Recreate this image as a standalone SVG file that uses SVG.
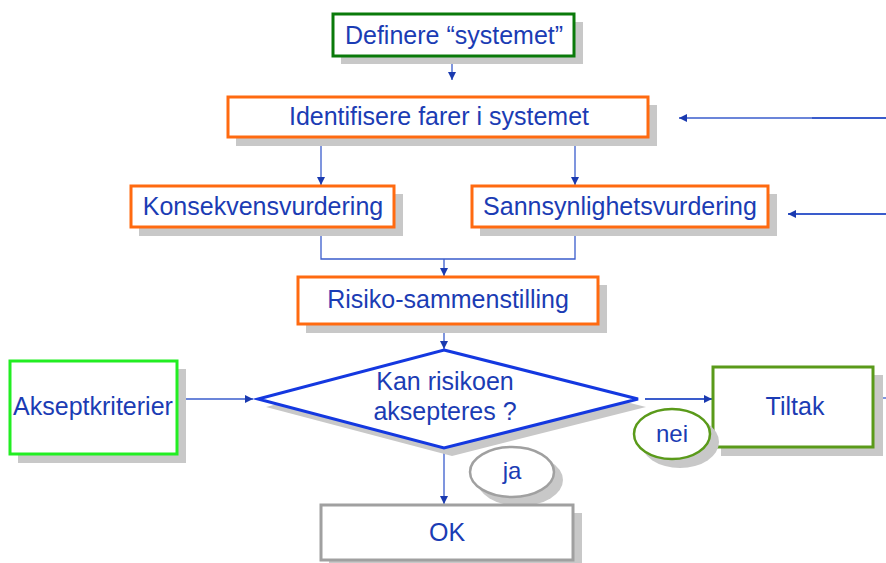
<svg xmlns="http://www.w3.org/2000/svg" width="886" height="563" viewBox="0 0 886 563">
<defs>
<style>
text{font-family:"Liberation Sans",Arial,sans-serif;font-size:25px;fill:#1b3cb4;text-anchor:middle}
.sh{fill:#c8c8c8}
.box{fill:#fff;stroke-width:3}
.or{stroke:#ff6a10}
.con{stroke:#3a5ccc;stroke-width:1.3;fill:none}
</style>
<marker id="ah" viewBox="0 0 10 10" refX="10" refY="5" markerWidth="8" markerHeight="8" markerUnits="userSpaceOnUse" orient="auto">
<path d="M0,0 L10,5 L0,10 z" fill="#1a3ab0"/>
</marker>
</defs>
<rect width="886" height="563" fill="#fff"/>

<g id="connectors">
<line class="con" x1="452" y1="57" x2="452" y2="80" marker-end="url(#ah)"/>
<line class="con" x1="321" y1="138" x2="321" y2="185" marker-end="url(#ah)"/>
<line class="con" x1="575" y1="138" x2="575" y2="185" marker-end="url(#ah)"/>
<polyline class="con" points="321,228 321,259 575,259 575,228"/>
<line class="con" x1="444" y1="259" x2="444" y2="276" marker-end="url(#ah)"/>
<line class="con" x1="444" y1="325" x2="444" y2="349" marker-end="url(#ah)"/>
<line class="con" x1="185" y1="399" x2="253" y2="399" marker-end="url(#ah)"/>
<line class="con" x1="645" y1="399" x2="712" y2="399" marker-end="url(#ah)" style="stroke-width:2"/>
<line class="con" x1="444" y1="449" x2="444" y2="504" marker-end="url(#ah)"/>
<line class="con" x1="875" y1="398" x2="886" y2="398"/>
<line class="con" x1="886" y1="118" x2="679" y2="118" marker-end="url(#ah)"/>
<line class="con" x1="886" y1="118" x2="812" y2="118" style="stroke-width:2"/>
<line class="con" x1="886" y1="214" x2="788" y2="214" marker-end="url(#ah)" style="stroke-width:2"/>
</g>

<g id="definere">
<rect class="sh" x="341" y="22" width="242" height="42"/>
<rect class="box" x="333" y="14" width="241" height="42" stroke="#0a7a0a"/>
<text x="454" y="44">Definere “systemet”</text>
</g>

<g id="identifisere">
<rect class="sh" x="236" y="105" width="421" height="41"/>
<rect class="box or" x="228" y="97" width="420" height="40"/>
<text x="439" y="125">Identifisere farer i systemet</text>
</g>

<g id="konsekvens">
<rect class="sh" x="139" y="194" width="264" height="42"/>
<rect class="box or" x="131" y="186" width="263" height="41"/>
<text x="263" y="215">Konsekvensvurdering</text>
</g>

<g id="sannsynlighet">
<rect class="sh" x="480" y="194" width="297" height="42"/>
<rect class="box or" x="472" y="186" width="296" height="41"/>
<text x="620" y="215">Sannsynlighetsvurdering</text>
</g>

<g id="risiko">
<rect class="sh" x="306" y="285" width="301" height="48"/>
<rect class="box or" x="298" y="277" width="300" height="47"/>
<text x="448" y="308">Risiko-sammenstilling</text>
</g>

<g id="aksept">
<rect class="sh" x="18" y="369" width="168" height="94"/>
<rect class="box" x="10" y="361" width="167" height="93" stroke="#22ee22"/>
<text x="93" y="415">Akseptkriterier</text>
</g>

<g id="beslutning">
<polygon class="sh" points="452,358 646,407 452,456 266,407"/>
<polygon points="444,350 638,399 444,448 258,399" fill="#fff" stroke="#1438e0" stroke-width="3"/>
<text x="445" y="390">Kan risikoen</text>
<text x="445" y="420">aksepteres ?</text>
</g>

<g id="tiltak">
<rect class="sh" x="721" y="375" width="162" height="81"/>
<rect class="box" x="713" y="367" width="160" height="80" stroke="#5a9a1a"/>
<text x="795" y="415">Tiltak</text>
</g>

<g id="nei">
<ellipse class="sh" cx="680" cy="442" rx="39" ry="26"/>
<ellipse cx="672" cy="434" rx="38" ry="25" fill="#fff" stroke="#5a9a1a" stroke-width="2.5"/>
<text x="672" y="442" style="font-size:24px">nei</text>
</g>

<g id="ja">
<ellipse class="sh" cx="520" cy="480" rx="43" ry="26"/>
<ellipse cx="512" cy="472" rx="42" ry="25" fill="#fff" stroke="#a0a0a0" stroke-width="2.5"/>
<text x="512" y="479" style="font-size:24px">ja</text>
</g>

<g id="ok">
<rect class="sh" x="329" y="513" width="253" height="50"/>
<rect class="box" x="321" y="505" width="252" height="55" stroke="#a0a0a0"/>
<text x="447" y="541">OK</text>
</g>
</svg>
